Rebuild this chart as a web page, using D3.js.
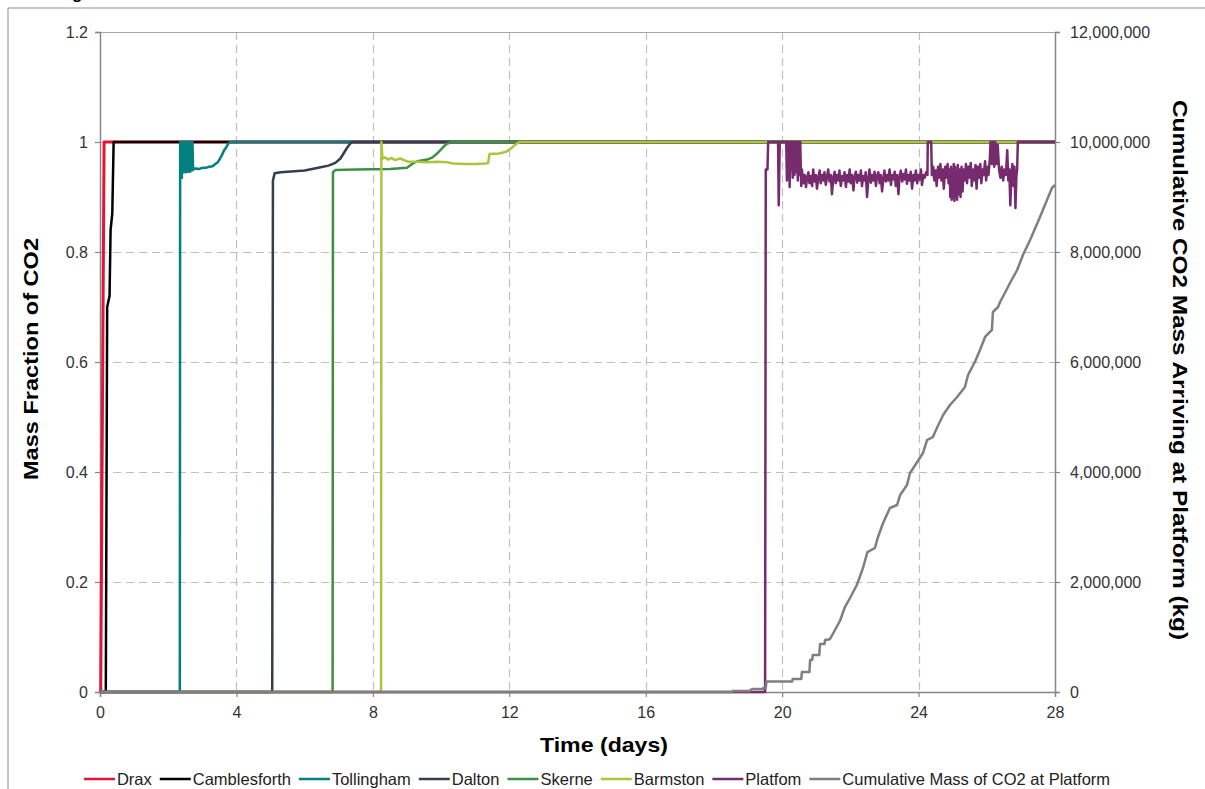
<!DOCTYPE html>
<html><head><meta charset="utf-8">
<script src="https://cdn.jsdelivr.net/npm/d3@7"></script>
<style>
html,body{margin:0;padding:0;background:#fff;}
svg{display:block;}
text{font-family:"Liberation Sans",Arial,sans-serif;}
</style></head>
<body>
<svg id="chart" width="1205" height="789"></svg>
<script>
// ---------- DATA ----------
const xTicks = [0, 4, 8, 12, 16, 20, 24, 28];
const yTicksLeft = [0, 0.2, 0.4, 0.6, 0.8, 1, 1.2];
const yTicksRight = [0, 2000000, 4000000, 6000000, 8000000, 10000000, 12000000];
const seriesNames = ["Drax","Camblesforth","Tollingham","Dalton","Skerne","Barmston","Platfom","Cumulative Mass of CO2 at Platform"];
const seriesColors = ["#E5123A","#000000","#00807F","#323F4E","#3F8E45","#AFC43C","#772B6F","#7F7F7F"];

const drax = [[0,0],[0.02,0],[0.12,1],[28,1]];
const camblesforth = [[0,0],[0.17,0],[0.21,0.7],[0.28,0.72],[0.31,0.84],[0.36,0.87],[0.4,1],[28,1]];
const tollingham = [[0,0],[2.34,0],[2.35,1],[2.37,0.945],[2.38,1],[2.40,0.935],[2.41,1],[2.43,0.948],[2.44,1],[2.46,0.945],[2.47,1],[2.49,0.95],[2.50,1],[2.52,0.945],[2.53,1],[2.55,0.948],[2.56,1],[2.58,0.946],[2.59,1],[2.61,0.948],[2.62,1],[2.64,0.946],[2.65,1],[2.67,0.95],[2.68,1],[2.70,0.948],[2.71,1],[2.73,0.95],[2.80,0.952],[2.9,0.951],[3.0,0.953],[3.1,0.953],[3.2,0.955],[3.3,0.956],[3.38,0.96],[3.45,0.963],[3.52,0.97],[3.58,0.977],[3.64,0.985],[3.7,0.99],[3.76,0.997],[3.82,1],[28,1]];
const dalton = [[0,0],[5.05,0],[5.07,0.93],[5.12,0.943],[5.3,0.945],[6.0,0.948],[6.4,0.953],[6.7,0.957],[6.9,0.962],[7.05,0.97],[7.15,0.98],[7.25,0.99],[7.35,0.998],[7.4,1],[28,1]];
const skerne = [[0,0],[6.82,0],[6.83,0.945],[6.9,0.949],[7.5,0.95],[8.5,0.951],[9.0,0.953],[9.15,0.96],[9.3,0.965],[9.6,0.968],[9.75,0.972],[9.9,0.98],[10.05,0.99],[10.15,0.996],[10.3,1],[28,1]];
const barmston = [[0,0],[8.24,0],[8.25,1],[8.28,0.97],[8.35,0.972],[8.45,0.968],[8.55,0.971],[8.65,0.967],[8.8,0.97],[8.95,0.966],[9.05,0.964],[9.3,0.964],[9.6,0.963],[9.9,0.964],[10.2,0.963],[10.35,0.961],[10.7,0.96],[11.0,0.96],[11.3,0.961],[11.38,0.962],[11.42,0.978],[11.7,0.979],[11.9,0.982],[12.05,0.988],[12.15,0.994],[12.3,1],[28,1]];
const platform = [[0,0],[19.50,0],[19.52,0.95],[19.57,0.95],[19.59,1],[19.88,1],[19.90,0.885],[19.93,1],[20.12,1],
[20.14,0.93],[20.16,1],[20.18,0.94],[20.20,1],[20.22,0.918],[20.24,1],[20.26,0.95],[20.28,1],[20.31,0.935],[20.33,1],[20.36,0.94],[20.38,1],[20.41,0.945],[20.43,1],[20.46,0.93],[20.48,1],[20.51,0.94],[20.53,1],[20.56,0.92],[20.58,0.95],
[20.62,0.925],[20.66,0.94],[20.70,0.918],[20.73,0.935],[20.77,0.945],[20.80,0.925],[20.84,0.938],[20.88,0.92],[20.91,0.95],[20.95,0.928],[20.99,0.94],[21.02,0.915],[21.06,0.935],[21.10,0.948],[21.13,0.925],[21.17,0.94],[21.21,0.93],[21.24,0.945],[21.28,0.922],[21.32,0.938],[21.35,0.95],[21.39,0.928],[21.43,0.94],[21.46,0.905],[21.50,0.935],[21.54,0.946],[21.57,0.925],[21.61,0.94],[21.65,0.93],[21.68,0.948],[21.72,0.92],[21.76,0.938],[21.79,0.93],[21.83,0.945],[21.87,0.918],[21.90,0.94],[21.94,0.928],[21.98,0.95],[22.01,0.925],[22.05,0.94],[22.09,0.912],[22.12,0.936],[22.16,0.946],[22.20,0.926],[22.23,0.94],[22.27,0.93],[22.31,0.948],[22.34,0.92],[22.38,0.938],[22.42,0.93],[22.45,0.945],[22.49,0.9],[22.53,0.935],[22.56,0.95],[22.60,0.926],[22.64,0.94],[22.67,0.93],[22.71,0.946],[22.75,0.92],[22.78,0.938],[22.82,0.945],[22.86,0.925],[22.89,0.94],[22.93,0.91],[22.97,0.936],[23.00,0.948],[23.04,0.928],[23.08,0.94],[23.11,0.93],[23.15,0.95],[23.19,0.922],[23.22,0.94],[23.26,0.932],[23.30,0.946],[23.33,0.92],[23.37,0.94],[23.41,0.905],[23.44,0.936],[23.48,0.948],[23.52,0.928],[23.55,0.942],[23.59,0.932],[23.63,0.95],[23.66,0.924],[23.70,0.94],[23.74,0.93],[23.77,0.946],[23.81,0.915],[23.85,0.94],[23.88,0.93],[23.92,0.948],[23.96,0.925],[23.99,0.94],[24.03,0.932],[24.07,0.95],[24.10,0.922],[24.14,0.94],[24.18,0.935],[24.22,0.945],[24.26,0.94],[24.27,1],[24.37,1],[24.39,0.94],
[24.43,0.955],[24.46,0.93],[24.50,0.948],[24.53,0.92],[24.57,0.955],[24.60,0.935],[24.64,0.96],[24.67,0.93],[24.71,0.95],[24.74,0.915],[24.78,0.955],[24.81,0.935],[24.85,0.96],[24.88,0.925],[24.91,0.95],[24.93,0.9],[24.95,0.955],[24.97,0.895],[24.99,0.95],[25.01,0.9],[25.03,0.96],[25.05,0.893],[25.07,0.955],[25.09,0.9],[25.11,0.945],[25.13,0.895],[25.15,0.958],[25.17,0.905],[25.20,0.95],[25.23,0.9],[25.26,0.955],[25.29,0.91],[25.32,0.95],[25.35,0.93],[25.39,0.96],[25.42,0.925],[25.46,0.955],[25.49,0.935],[25.53,0.962],[25.56,0.92],[25.60,0.95],[25.63,0.93],[25.67,0.958],[25.70,0.915],[25.74,0.955],[25.77,0.935],[25.81,0.96],[25.84,0.925],[25.88,0.95],[25.91,0.94],[25.95,0.965],[25.98,0.93],[26.02,0.955],[26.05,0.94],[26.09,0.97],[26.11,1],[26.15,0.96],[26.18,1],[26.22,0.955],[26.25,1],[26.29,0.96],[26.32,0.995],[26.36,0.95],[26.40,0.935],[26.44,0.955],[26.48,0.93],[26.52,0.95],[26.56,0.94],[26.60,0.985],[26.63,0.93],[26.66,0.95],[26.69,0.885],[26.72,0.94],[26.75,0.96],[26.78,0.92],[26.81,0.955],[26.84,0.88],[26.87,0.94],[26.89,0.95],[26.91,1],[28,1]];
const cumulativeMass = [[0,0],[18.53,0],[18.55,18000],[19.05,18000],[19.07,36000],[19.12,55000],[19.43,55000],[19.45,73000],[19.52,73000],[19.54,190000],[20.29,190000],[20.31,236000],[20.56,236000],[20.58,364000],[20.80,364000],[20.82,582000],[20.88,582000],[20.90,673000],[21.09,673000],[21.11,873000],[21.24,873000],[21.26,945000],[21.40,960000],[21.55,1127000],[21.70,1300000],[21.84,1545000],[21.99,1709000],[22.19,1945000],[22.37,2255000],[22.50,2545000],[22.72,2618000],[22.81,2818000],[22.96,3073000],[23.16,3345000],[23.37,3400000],[23.46,3582000],[23.66,3764000],[23.75,3982000],[23.96,4182000],[24.13,4345000],[24.25,4582000],[24.42,4636000],[24.55,4818000],[24.72,5036000],[24.92,5218000],[25.13,5364000],[25.36,5545000],[25.45,5764000],[25.65,6000000],[25.80,6218000],[25.95,6455000],[26.15,6582000],[26.18,6909000],[26.33,7000000],[26.39,7091000],[26.53,7255000],[26.68,7436000],[26.89,7673000],[27.06,7945000],[27.27,8218000],[27.56,8636000],[27.91,9164000],[28,9218000]];

// ---------- CHART ----------
const svg = d3.select("#chart");
const W = 1205, H = 789;
svg.append("rect").attr("width", W).attr("height", H).attr("fill", "#fff");

// outer frame (partially visible)
svg.append("path").attr("d", "M8,789 V8 H1205").attr("fill", "none").attr("stroke", "#8c8c8c").attr("stroke-width", 1);
// cut-off title glyph at very top
svg.append("text").attr("x", 72).attr("y", -1).attr("font-size", 17).attr("font-weight", "bold").attr("fill", "#000").text("g");

const L = 100, R = 1055, T = 32, B = 692;
const x = d3.scaleLinear().domain([0, 28]).range([L, R]);
const yL = d3.scaleLinear().domain([0, 1.2]).range([B, T]);
const yR = d3.scaleLinear().domain([0, 12000000]).range([B, T]);

// gridlines
const grid = svg.append("g");
yTicksLeft.filter(v => v > 0 && v < 1.2).forEach(v => {
  grid.append("line").attr("x1", L).attr("x2", R).attr("y1", Math.round(yL(v)) + 0.5).attr("y2", Math.round(yL(v)) + 0.5)
    .attr("stroke", "#bfbfbf").attr("stroke-width", 1.2).attr("stroke-dasharray", "8,5");
});
xTicks.filter(v => v > 0 && v < 28).forEach(v => {
  grid.append("line").attr("y1", T).attr("y2", B).attr("x1", Math.round(x(v)) + 0.5).attr("x2", Math.round(x(v)) + 0.5)
    .attr("stroke", "#bfbfbf").attr("stroke-width", 1.2).attr("stroke-dasharray", "8,5");
});
// top border
svg.append("line").attr("x1", L).attr("x2", R).attr("y1", T + 0.5).attr("y2", T + 0.5).attr("stroke", "#a6a6a6").attr("stroke-width", 1.2);

const axisColor = "#868686";
function styleAxis(g) {
  g.select(".domain").attr("stroke", axisColor).attr("stroke-width", 1.5);
  g.selectAll(".tick line").attr("stroke", axisColor).attr("stroke-width", 1.2);
  g.selectAll(".tick text").attr("fill", "#333").attr("font-size", 16).attr("font-family", "'Liberation Sans',Arial,sans-serif");
}
const fmtL = v => (v === 0 || v === 1) ? String(v) : d3.format(".1f")(v);
svg.append("g").attr("transform", `translate(${L},0)`)
  .call(d3.axisLeft(yL).tickValues(yTicksLeft).tickFormat(fmtL).tickSizeOuter(0).tickSize(5).tickPadding(7))
  .call(styleAxis);
svg.append("g").attr("transform", `translate(${R},0)`)
  .call(d3.axisRight(yR).tickValues(yTicksRight).tickFormat(d3.format(",")).tickSizeOuter(0).tickSize(5).tickPadding(10))
  .call(styleAxis);
svg.append("g").attr("transform", `translate(0,${B})`)
  .call(d3.axisBottom(x).tickValues(xTicks).tickFormat(d3.format("d")).tickSizeOuter(0).tickSize(5).tickPadding(10))
  .call(styleAxis);

// series
const line = d3.line().x(d => x(d[0])).y(d => yL(d[1]));
const lineR = d3.line().x(d => x(d[0])).y(d => yR(d[1]));
const leftSeries = [drax, camblesforth, tollingham, dalton, skerne, barmston, platform];
leftSeries.forEach((s, i) => {
  svg.append("path").attr("d", line(s)).attr("fill", "none").attr("stroke", seriesColors[i])
    .attr("stroke-width", i === 0 ? 3 : 2.5).attr("stroke-linejoin", "round");
});
svg.append("path").attr("d", lineR(cumulativeMass)).attr("fill", "none").attr("stroke", seriesColors[7])
  .attr("stroke-width", 2.5).attr("stroke-linejoin", "round");

// axis titles
svg.append("text").attr("transform", "translate(38,359) rotate(-90)").attr("text-anchor", "middle")
  .attr("font-size", 21).attr("font-weight", "bold").attr("fill", "#000")
  .attr("textLength", 242).attr("lengthAdjust", "spacingAndGlyphs").text("Mass Fraction of CO2");
svg.append("text").attr("x", 604).attr("y", 752).attr("text-anchor", "middle")
  .attr("font-size", 21).attr("font-weight", "bold").attr("fill", "#000")
  .attr("textLength", 128).attr("lengthAdjust", "spacingAndGlyphs").text("Time (days)");
svg.append("text").attr("transform", "translate(1173,370) rotate(90)").attr("text-anchor", "middle")
  .attr("font-size", 21).attr("font-weight", "bold").attr("fill", "#000")
  .attr("textLength", 540).attr("lengthAdjust", "spacingAndGlyphs").text("Cumulative CO2 Mass Arriving at Platform (kg)");

// legend
const lg = svg.append("g");
let cx = 82;
const ly = 779;
seriesNames.forEach((n, i) => {
  lg.append("line").attr("x1", cx).attr("x2", cx + 31).attr("y1", ly).attr("y2", ly)
    .attr("stroke", seriesColors[i]).attr("stroke-width", 2.5);
  const t = lg.append("text").attr("x", cx + 33).attr("y", ly + 6).attr("font-size", 16.5).attr("fill", "#222").text(n);
  cx = cx + 33 + t.node().getComputedTextLength() + 8;
});
const bbox = lg.node().getBBox();
lg.attr("transform", `translate(${597 - (bbox.x + bbox.width / 2)},0)`);
</script>
</body></html>
